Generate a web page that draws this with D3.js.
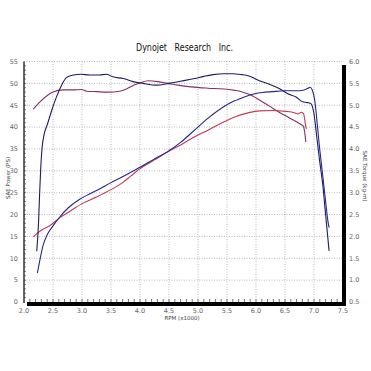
<!DOCTYPE html>
<html>
<head>
<meta charset="utf-8">
<script src="https://cdn.jsdelivr.net/npm/d3@7"></script>
<style>
  body { margin: 0; background: #fff; }
  svg { display: block; }
  text { font-family: "DejaVu Sans", sans-serif; }
</style>
</head>
<body>
<script>
// run A (blue) torque, plotted on the left scale units
var torqueA_rpm = [2.22, 2.25, 2.27, 2.29, 2.31, 2.35, 2.40, 2.48, 2.56, 2.65, 2.73, 2.85, 2.98, 3.13, 3.30, 3.42, 3.53, 3.71, 3.88, 4.05, 4.28, 4.50, 4.70, 4.94, 5.10, 5.26, 5.45, 5.60, 5.75, 5.88, 6.06, 6.23, 6.40, 6.55, 6.69, 6.80, 6.89, 6.95, 7.00, 7.05, 7.10, 7.15, 7.20, 7.26];
var torqueA_val = [11.6, 18, 25, 31, 35, 38.5, 40.5, 43.9, 46.9, 49.6, 51.3, 51.9, 52.1, 51.9, 51.9, 52.1, 51.5, 51.1, 50.4, 50.0, 49.6, 50.0, 50.5, 51.1, 51.6, 52.0, 52.2, 52.2, 52.0, 51.7, 50.6, 49.8, 48.8, 47.6, 46.9, 45.8, 45.6, 45.3, 43.0, 37.5, 32, 27, 20, 11.7];

// run A (blue) power
var powerA_rpm = [2.23, 2.28, 2.33, 2.40, 2.50, 2.62, 2.76, 2.96, 3.13, 3.31, 3.50, 3.65, 3.82, 4.00, 4.25, 4.50, 4.70, 4.89, 5.17, 5.45, 5.63, 5.71, 5.88, 6.11, 6.28, 6.48, 6.69, 6.83, 6.89, 6.93, 6.97, 7.02, 7.06, 7.10, 7.15, 7.20, 7.24, 7.26];
var powerA_val = [6.6, 10, 13, 15.4, 17.4, 19.5, 21.5, 23.5, 24.7, 25.9, 27.3, 28.3, 29.5, 30.8, 32.7, 34.6, 36.5, 38.7, 42.0, 44.7, 46.0, 46.4, 47.3, 47.9, 48.1, 48.3, 48.3, 48.5, 48.8, 49.1, 48.5, 45.4, 40.1, 34.8, 29, 23, 18.5, 17.0];

// run B (red) torque
var torqueB_rpm = [2.16, 2.28, 2.39, 2.50, 2.68, 2.85, 2.99, 3.08, 3.25, 3.45, 3.65, 3.78, 3.90, 4.00, 4.14, 4.31, 4.48, 4.65, 4.88, 5.17, 5.45, 5.63, 5.75, 5.88, 6.06, 6.23, 6.40, 6.55, 6.66, 6.74, 6.79, 6.82, 6.86];
var torqueB_val = [44.1, 45.8, 47.1, 48.0, 48.5, 48.5, 48.6, 48.2, 48.1, 48.0, 48.2, 48.8, 49.6, 50.1, 50.6, 50.4, 50.0, 49.6, 49.2, 48.9, 48.7, 48.4, 48.1, 47.5, 46.2, 44.8, 43.4, 42.3, 41.5, 40.9, 40.5, 40.1, 36.6];

// run B (red) power
var powerB_rpm = [2.16, 2.30, 2.45, 2.62, 2.80, 3.00, 3.25, 3.50, 3.70, 3.85, 4.00, 4.25, 4.50, 4.70, 4.89, 5.17, 5.45, 5.63, 5.88, 6.06, 6.28, 6.51, 6.66, 6.72, 6.78, 6.82, 6.86, 6.87];
var powerB_val = [14.9, 16.4, 17.5, 19.3, 20.8, 22.5, 24.0, 25.7, 27.3, 28.9, 30.5, 32.5, 34.5, 35.9, 37.4, 39.3, 41.2, 42.3, 43.3, 43.7, 43.8, 43.6, 43.3, 43.0, 43.4, 43.1, 40.0, 39.6];

var xTicks = [2.0, 2.5, 3.0, 3.5, 4.0, 4.5, 5.0, 5.5, 6.0, 6.5, 7.0, 7.5];
var leftTicks = [0, 5, 10, 15, 20, 25, 30, 35, 40, 45, 50, 55];
var rightTicks = [0.5, 1.0, 1.5, 2.0, 2.5, 3.0, 3.5, 4.0, 4.5, 5.0, 5.5, 6.0];

var w = 371, h = 371;
var x = d3.scaleLinear().domain([2, 7.5]).range([24, 343]);
var yL = d3.scaleLinear().domain([0, 55]).range([302, 61.5]);
var yR = d3.scaleLinear().domain([0.5, 6]).range([302, 61.5]);

var svg = d3.select("body").append("svg").attr("width", w).attr("height", h);

// title
svg.append("text").attr("x", 136).attr("y", 51)
  .style("white-space", "pre")
  .attr("textLength", 97).attr("lengthAdjust", "spacingAndGlyphs")
  .style("font-size", "10px").attr("fill", "#111")
  .text("Dynojet   Research   Inc.");

// grid
var grid = svg.append("g").attr("stroke", "#a8a8a8").attr("stroke-width", 0.8).attr("stroke-dasharray", "1,1.5");
grid.selectAll(".vg").data(xTicks.slice(1, -1)).enter().append("line")
  .attr("x1", d => x(d)).attr("x2", d => x(d)).attr("y1", yL(55)).attr("y2", yL(0));
grid.selectAll(".hg").data(leftTicks.slice(1)).enter().append("line")
  .attr("x1", x(2)).attr("x2", x(7.5)).attr("y1", d => yL(d)).attr("y2", d => yL(d));

// curves
var line = d3.line().x(d => x(d[0])).y(d => yL(d[1])).curve(d3.curveMonotoneX);
function pairs(a, b) { return a.map((r, i) => [r, b[i]]); }

var series = [
  { rpm: torqueB_rpm, val: torqueB_val, color: "#8a2f62" },
  { rpm: powerB_rpm, val: powerB_val, color: "#c43a52" },
  { rpm: torqueA_rpm, val: torqueA_val, color: "#1c1c66" },
  { rpm: powerA_rpm, val: powerA_val, color: "#262690" }
];
svg.selectAll(".curve").data(series).enter().append("path")
  .attr("class", "curve")
  .attr("d", d => line(pairs(d.rpm, d.val)))
  .attr("fill", "none").attr("stroke", d => d.color).attr("stroke-width", 1.1);

// axes frame
svg.append("line").attr("x1", x(2)).attr("x2", x(2)).attr("y1", yL(55)).attr("y2", yL(0) + 1)
  .attr("stroke", "#000").attr("stroke-width", 1.2);
svg.append("rect").attr("x", 27).attr("y", 302).attr("width", 319).attr("height", 4).attr("fill", "#000");
svg.append("rect").attr("x", 342).attr("y", 65).attr("width", 4).attr("height", 241).attr("fill", "#000");

// minor ticks
var minorX = d3.range(21, 75).map(i => i / 10);
svg.append("g").selectAll("line").data(minorX).enter().append("line")
  .attr("x1", d => x(d)).attr("x2", d => x(d)).attr("y1", 299).attr("y2", 302)
  .attr("stroke", "#333").attr("stroke-width", 0.7);
var minorY = d3.range(1, 55);
svg.append("g").selectAll("line").data(minorY).enter().append("line")
  .attr("x1", x(2)).attr("x2", x(2) + 2).attr("y1", d => yL(d)).attr("y2", d => yL(d))
  .attr("stroke", "#333").attr("stroke-width", 0.6);

// tick labels
var lab = svg.append("g").attr("fill", "#666").style("font-size", "6.5px");
lab.selectAll(".xl").data(xTicks).enter().append("text")
  .attr("x", d => x(d)).attr("y", 313).attr("text-anchor", "middle")
  .text(d => d3.format(".1f")(d));
lab.selectAll(".ll").data(leftTicks).enter().append("text")
  .attr("x", 18).attr("y", d => yL(d)).attr("dy", "0.35em").attr("text-anchor", "end")
  .text(d => d);
lab.selectAll(".rl").data(rightTicks).enter().append("text")
  .attr("x", 349).attr("y", d => yR(d)).attr("dy", "0.35em").attr("text-anchor", "start")
  .text(d => d3.format(".1f")(d));

// axis titles
svg.append("text").attr("x", 182).attr("y", 320).attr("text-anchor", "middle")
  .style("font-size", "5.5px").attr("fill", "#444").text("RPM (x1000)");
svg.append("text").attr("transform", "translate(10,178) rotate(-90)").attr("text-anchor", "middle")
  .style("font-size", "5.5px").attr("fill", "#444").text("SAE Power (PS)");
svg.append("text").attr("transform", "translate(363,176) rotate(90)").attr("text-anchor", "middle")
  .style("font-size", "5.5px").attr("fill", "#444").text("SAE Torque (kg-m)");
</script>
</body>
</html>
